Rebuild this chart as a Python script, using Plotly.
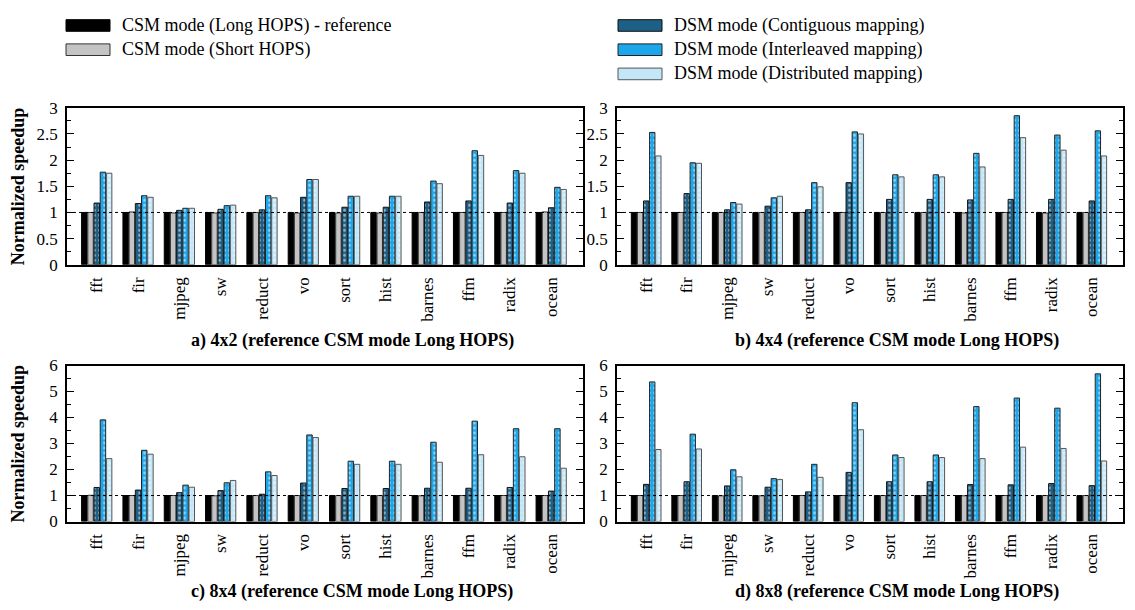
import plotly.graph_objects as go

categories = ["fft", "fir", "mjpeg", "sw", "reduct", "vo", "sort", "hist", "barnes", "ffm", "radix", "ocean"]
series_names = ["CSM mode (Long HOPS) - reference", "CSM mode (Short HOPS)",
                "DSM mode (Contiguous mapping)", "DSM mode (Interleaved mapping)",
                "DSM mode (Distributed mapping)"]

# a) 4x2
a_long = [1, 1, 1, 1, 1, 1, 1, 1, 1, 1, 1, 1]
a_short = [1.0, 1.01, 0.99, 0.99, 1.0, 0.99, 0.99, 0.99, 1.0, 1.0, 1.0, 1.01]
a_contig = [1.18, 1.17, 1.04, 1.06, 1.05, 1.29, 1.10, 1.10, 1.20, 1.22, 1.18, 1.09]
a_inter = [1.77, 1.32, 1.08, 1.13, 1.32, 1.63, 1.31, 1.31, 1.60, 2.18, 1.80, 1.48]
a_dist = [1.75, 1.29, 1.08, 1.14, 1.28, 1.63, 1.31, 1.31, 1.55, 2.09, 1.75, 1.44]

# b) 4x4
b_long = [1, 1, 1, 1, 1, 1, 1, 1, 1, 1, 1, 1]
b_short = [1.0, 1.0, 1.0, 1.0, 1.0, 1.0, 1.0, 1.0, 0.99, 1.0, 0.99, 1.0]
b_contig = [1.22, 1.36, 1.05, 1.12, 1.05, 1.57, 1.25, 1.25, 1.24, 1.25, 1.25, 1.22]
b_inter = [2.53, 1.95, 1.19, 1.28, 1.57, 2.54, 1.72, 1.72, 2.13, 2.85, 2.48, 2.56]
b_dist = [2.08, 1.94, 1.16, 1.31, 1.49, 2.50, 1.68, 1.68, 1.87, 2.43, 2.19, 2.08]

# c) 8x4
c_long = [1, 1, 1, 1, 1, 1, 1, 1, 1, 1, 1, 1]
c_short = [1.01, 1.0, 1.0, 0.99, 1.0, 1.0, 1.0, 1.0, 0.99, 1.0, 1.0, 1.0]
c_contig = [1.31, 1.21, 1.11, 1.19, 1.05, 1.48, 1.27, 1.27, 1.28, 1.28, 1.31, 1.17]
c_inter = [3.91, 2.74, 1.40, 1.49, 1.91, 3.33, 2.32, 2.32, 3.05, 3.86, 3.57, 3.57]
c_dist = [2.42, 2.59, 1.32, 1.58, 1.77, 3.23, 2.20, 2.20, 2.28, 2.57, 2.49, 2.05]

# d) 8x8
d_long = [1, 1, 1, 1, 1, 1, 1, 1, 1, 1, 1, 1]
d_short = [1.0, 1.0, 0.99, 0.99, 1.0, 1.0, 1.0, 1.0, 0.99, 1.0, 1.0, 1.0]
d_contig = [1.43, 1.53, 1.37, 1.32, 1.14, 1.89, 1.53, 1.53, 1.42, 1.41, 1.46, 1.38]
d_inter = [5.37, 3.36, 1.99, 1.65, 2.20, 4.57, 2.56, 2.56, 4.42, 4.75, 4.36, 5.68]
d_dist = [2.77, 2.79, 1.72, 1.62, 1.70, 3.53, 2.46, 2.46, 2.42, 2.86, 2.81, 2.33]

panel_titles = ["a) 4x2 (reference CSM mode Long HOPS)", "b) 4x4 (reference CSM mode Long HOPS)",
                "c) 8x4 (reference CSM mode Long HOPS)", "d) 8x8 (reference CSM mode Long HOPS)"]
y_title = "Normalized speedup"

panels = [
    [a_long, a_short, a_contig, a_inter, a_dist],
    [b_long, b_short, b_contig, b_inter, b_dist],
    [c_long, c_short, c_contig, c_inter, c_dist],
    [d_long, d_short, d_contig, d_inter, d_dist],
]

colors = ["#000000", "#c4c4c4", "#1d5f85", "#1ea6ea", "#c4e7f8"]
outline = ["#000000", "#333333", "#111111", "#222222", "#555555"]
patterned = [False, False, True, True, True]

W, H = 1135, 610
FONT = "Liberation Serif"

# panel pixel boxes (left, right, top, bottom)
boxes = [(67, 583, 102, 264), (617, 1123, 102, 264), (67, 583, 368, 529), (617, 1123, 368, 529)]
title_y = [342, 342, 601, 601]
yranges = [3, 3, 6, 6]
ydticks = [0.5, 0.5, 1, 1]

xpos = list(range(len(categories)))

fig = go.Figure()
for p, series in enumerate(panels):
    xa = "x" if p == 0 else f"x{p+1}"
    ya = "y" if p == 0 else f"y{p+1}"
    for s, vals in enumerate(series):
        marker = dict(color=colors[s], line=dict(color=outline[s], width=1))
        if patterned[s]:
            marker["pattern"] = dict(shape=".", fgcolor="white", bgcolor=colors[s], size=5, solidity=0.25)
        fig.add_trace(go.Bar(x=xpos, y=vals, name=series_names[s], marker=marker,
                             xaxis=xa, yaxis=ya, showlegend=False))

layout = dict(
    width=W, height=H, margin=dict(l=0, r=0, t=0, b=0),
    paper_bgcolor="white", plot_bgcolor="white",
    barmode="group", bargap=0.25, bargroupgap=0.12,
    font=dict(family=FONT, size=16, color="black"),
    showlegend=False,
)

xr = [-0.72, 11.77]
shapes = []
annotations = []
for p, (l, r, t, b) in enumerate(boxes):
    n = p + 1
    xk = "xaxis" if p == 0 else f"xaxis{n}"
    yk = "yaxis" if p == 0 else f"yaxis{n}"
    xref = "x" if p == 0 else f"x{n}"
    yref = "y" if p == 0 else f"y{n}"
    dom_x = [l / W, r / W]
    dom_y = [(H - b) / H, (H - t) / H]
    layout[xk] = dict(domain=dom_x, anchor=yref, range=xr, tickmode="array",
                      tickvals=xpos, ticktext=categories, tickangle=-90, ticks="",
                      showline=True, linecolor="black", linewidth=1.5, mirror=True,
                      showgrid=False, zeroline=False, ticklabelstandoff=4,
                      tickfont=dict(family=FONT, size=17))
    ok = f"xaxis{n+4}"
    layout[ok] = dict(overlaying=xref, anchor=yref, side="top", range=xr,
                      tickmode="linear", tick0=1, dtick=2, ticks="inside", ticklen=7,
                      tickcolor="black", showticklabels=False, mirror="allticks",
                      showline=False, showgrid=False, zeroline=False,
                      minor=dict(ticks="inside", ticklen=4, dtick=0.5, tick0=0, tickcolor="black"))
    layout[yk] = dict(domain=dom_y, anchor=xref, range=[0, yranges[p]], dtick=ydticks[p],
                      ticks="inside", ticklen=7, tickcolor="black", showline=True,
                      linecolor="black", linewidth=1.5, mirror="allticks", showgrid=False,
                      zeroline=False, ticklabelstandoff=4,
                      tickfont=dict(family=FONT, size=17),
                      minor=dict(ticks="inside", ticklen=4, dtick=ydticks[p] / 2, tickcolor="black"))
    shapes.append(dict(type="line", xref=f"{xref} domain", yref=yref, x0=0, x1=1, y0=1, y1=1,
                       line=dict(color="black", width=1, dash="dot"), layer="above"))
    annotations.append(dict(text=f"<b>{panel_titles[p]}</b>", xref="paper", yref="paper",
                            x=((l + r) / 2 + 27) / W, y=(H - title_y[p]) / H,
                            showarrow=False, xanchor="center", yanchor="middle",
                            font=dict(family=FONT, size=18)))
    if p % 2 == 0:
        annotations.append(dict(text=f"<b>{y_title}</b>", xref="paper", yref="paper",
                                x=18 / W, y=(H - (t + b) / 2) / H, textangle=-90,
                                showarrow=False, xanchor="center", yanchor="middle",
                                font=dict(family=FONT, size=18)))

# legend (drawn manually)
legend_items = [(66, 110, 17, 0), (66, 110, 42, 1), (618, 662, 17, 2), (618, 662, 42, 3), (618, 662, 67, 4)]
for x0, x1, yc, s in legend_items:
    shapes.append(dict(type="rect", xref="paper", yref="paper", x0=x0 / W, x1=x1 / W,
                       y0=(H - yc - 6) / H, y1=(H - yc + 6) / H,
                       fillcolor=colors[s], line=dict(color=outline[s], width=1)))
    annotations.append(dict(text=series_names[s], xref="paper", yref="paper",
                            x=(x1 + 10) / W, y=(H - yc) / H, showarrow=False,
                            xanchor="left", yanchor="middle", font=dict(family=FONT, size=18)))

layout["shapes"] = shapes
layout["annotations"] = annotations
fig.update_layout(**layout)
fig.write_html("out.html", config={"displayModeBar": False},
               post_script="document.body.style.margin='0';")
